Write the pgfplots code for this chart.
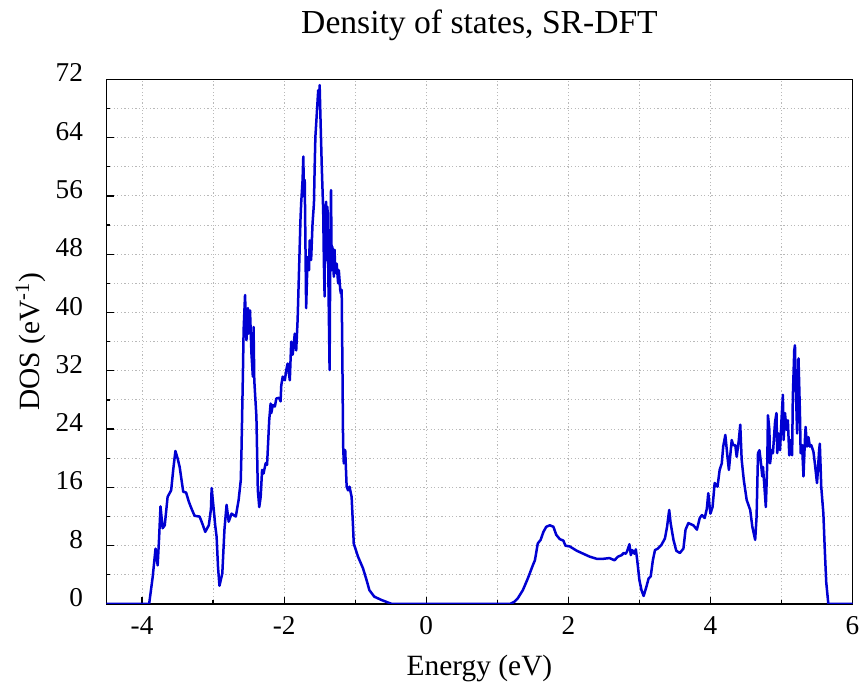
\documentclass[border=0pt]{standalone}
\usepackage{fontspec}
\setmainfont{Liberation Serif}
\usepackage{pgfplots}
\pgfplotsset{compat=1.18}
\definecolor{dosblue}{RGB}{0,0,210}
\definecolor{gridgray}{RGB}{185,185,185}
\begin{document}
\begin{tikzpicture}
\begin{axis}[
  scale only axis,
  width=373pt, height=262.35pt,
  xmin=-4.5, xmax=6, ymin=0, ymax=72,
  xtick={-4,-2,0,2,4,6},
  minor xtick={-3,-1,1,3,5},
  ytick={0,8,16,24,32,40,48,56,64,72},
  minor ytick={4,12,20,28,36,44,52,60,68},
  tick pos=left,
  tick align=inside,
  major tick length=3.5pt,
  minor tick length=2pt,
  every tick/.style={black, line width=0.6pt},
  grid=both,
  major grid style={gridgray, line width=0.5pt, dash pattern=on 0.6pt off 1.2pt},
  minor grid style={gridgray, line width=0.5pt, dash pattern=on 0.6pt off 1.2pt},
  axis line style={black, line width=0.8pt},
  /pgf/number format/assume math mode=true,
  ticklabel style={font=\fontsize{13.6}{15}\selectfont},
  xticklabel style={anchor=base, yshift=-15.5pt},
  yticklabel style={anchor=base east, xshift=-8.25pt, yshift=-1.3pt},
  title={Density of states, SR-DFT},
  every axis title/.style={font=\fontsize{16.8}{19}\selectfont, at={(axis description cs:0.5,1.0877)}, anchor=base},
  xlabel={Energy (eV)},
  xlabel style={font=\fontsize{14.7}{17}\selectfont, at={(axis description cs:0.5,-0.1372)}, anchor=base},
  ylabel={DOS (eV\textsuperscript{-1})},
  ylabel style={font=\fontsize{14.7}{17}\selectfont, at={(axis description cs:-0.0898,0.5)}, anchor=base},
  clip=true,
]
\coordinate (bl) at (rel axis cs:0,0);
\addplot[dosblue, line width=1.25pt, line join=round] coordinates {
(-4.5,0) (-3.90,0) (-3.85,3.7) (-3.81,7.6) (-3.78,5.3) (-3.76,9) (-3.74,13.4) (-3.71,10.4) (-3.68,10.8)
(-3.64,14.7) (-3.59,15.6) (-3.56,18.5) (-3.53,21.0) (-3.50,20) (-3.47,18.8) (-3.42,15.4) (-3.38,15.3)
(-3.34,14.0) (-3.30,13) (-3.26,12.1) (-3.19,12.0) (-3.15,11) (-3.11,9.9) (-3.06,10.8) (-3.03,13)
(-3.02,15.9) (-2.99,12.9) (-2.97,10.8) (-2.95,9.2) (-2.93,5) (-2.91,2.5) (-2.87,4.2) (-2.84,10.2)
(-2.81,13.6) (-2.78,11.3) (-2.74,12.4) (-2.68,12.0) (-2.64,14.3) (-2.61,17.0) (-2.60,21.1) (-2.58,31.6)
(-2.57,37.6) (-2.55,42.4) (-2.53,36.2) (-2.51,40.6) (-2.50,37.1) (-2.48,40.3) (-2.46,34.4) (-2.44,31.2)
(-2.43,38.0) (-2.42,30.7) (-2.39,25.7) (-2.37,15.6) (-2.35,13.3) (-2.33,14.7) (-2.31,18.4) (-2.29,17.9)
(-2.26,19.3) (-2.24,19.1) (-2.21,25.2) (-2.19,27.5) (-2.18,26.2) (-2.16,27.3) (-2.13,27.1) (-2.11,28.2)
(-2.07,28.3) (-2.05,27.8) (-2.04,30.0) (-2.02,31.2) (-1.99,30.7) (-1.97,32.1) (-1.95,33.0) (-1.92,30.7)
(-1.90,36.0) (-1.88,34.2) (-1.85,37.1) (-1.83,34.8) (-1.81,39.0) (-1.79,45.8) (-1.77,52.7) (-1.76,55.0)
(-1.74,58.2) (-1.73,61.4) (-1.72,55.9) (-1.71,58.2) (-1.70,49.5) (-1.69,40.6) (-1.67,47.6) (-1.65,45.8)
(-1.64,49.9) (-1.62,47.2) (-1.60,52.2) (-1.58,55.0) (-1.57,60.0) (-1.56,64.1) (-1.54,67.3) (-1.52,70.5)
(-1.51,68.7) (-1.50,71.2) (-1.49,67.3) (-1.47,60.0) (-1.45,54.0) (-1.44,46.7) (-1.43,42.2) (-1.425,54.5)
(-1.42,51.3) (-1.41,55.2) (-1.40,47.2) (-1.39,54.5) (-1.37,39.4) (-1.36,32.1) (-1.35,48.6) (-1.34,56.8)
(-1.33,45.8) (-1.32,49.0) (-1.30,44.9) (-1.29,48.6) (-1.28,45.4) (-1.26,46.7) (-1.24,44.0) (-1.23,45.8)
(-1.21,43.1) (-1.20,42.6) (-1.19,43.1) (-1.18,33.5) (-1.17,22.0) (-1.16,19.3) (-1.14,21.1) (-1.12,16.1)
(-1.10,15.6) (-1.08,16.1) (-1.05,14.7) (-1.03,10.6) (-1.02,8.3) (-0.96,6.5) (-0.89,4.9) (-0.84,3.3)
(-0.80,1.9) (-0.73,1.0) (-0.63,0.55) (-0.51,0.1) (-0.48,0)
(1.18,0) (1.24,0.3) (1.29,0.8) (1.36,1.9) (1.43,3.5) (1.50,5.3) (1.53,6.0) (1.57,8.3) (1.61,8.8)
(1.65,9.9) (1.69,10.6) (1.74,10.8) (1.79,10.6) (1.83,9.5) (1.88,8.9) (1.93,8.7) (1.96,8.0) (2.02,7.9)
(2.12,7.3) (2.21,6.9) (2.30,6.5) (2.40,6.2) (2.49,6.2) (2.58,6.3) (2.65,6.0) (2.70,6.5) (2.75,6.7)
(2.78,7.0) (2.81,6.9) (2.83,7.3) (2.86,8.2) (2.88,6.7) (2.90,7.4) (2.93,6.9) (2.95,7.5) (2.97,6.0)
(3.00,3.3) (3.03,1.9) (3.06,1.1) (3.10,2.4) (3.13,3.5) (3.16,3.8) (3.19,6.0) (3.22,7.4) (3.26,7.6)
(3.31,8.1) (3.36,9.0) (3.39,10.6) (3.42,12.9) (3.44,11.1) (3.48,8.8) (3.52,7.3) (3.57,7.0) (3.62,7.6)
(3.65,10.2) (3.69,11.1) (3.76,10.8) (3.81,10.2) (3.85,11.8) (3.88,12.2) (3.92,11.8) (3.95,13.1)
(3.97,15.2) (4.00,12.4) (4.03,13.3) (4.06,16.6) (4.10,16.1) (4.13,18.4) (4.16,19.3) (4.18,21.6)
(4.21,23.2) (4.24,20.2) (4.26,18.4) (4.30,22.5) (4.32,21.8) (4.35,21.8) (4.37,20.2) (4.40,22.5)
(4.42,24.6) (4.44,19.8) (4.47,17.0) (4.51,14.3) (4.56,12.9) (4.59,10.6) (4.63,8.8) (4.65,12.0)
(4.67,20.7) (4.69,21.1) (4.71,19.5) (4.73,17.5) (4.74,18.8) (4.76,16.1) (4.78,13.3) (4.80,19.3)
(4.81,25.9) (4.83,23.9) (4.84,19.3) (4.86,21.1) (4.88,20.7) (4.91,25.0) (4.93,26.2) (4.94,20.7)
(4.96,23.4) (4.98,21.1) (5.00,25.2) (5.02,28.7) (5.03,22.5) (5.05,26.2) (5.07,23.9) (5.09,25.2)
(5.11,20.4) (5.13,22.5) (5.15,20.4) (5.16,28.4) (5.18,34.8) (5.19,35.5) (5.20,30.7) (5.22,23.4)
(5.23,29.8) (5.24,33.7) (5.26,26.2) (5.27,20.7) (5.29,21.8) (5.31,17.5) (5.33,22.5) (5.34,24.3)
(5.36,21.6) (5.38,22.9) (5.40,21.6) (5.42,21.8) (5.45,20.9) (5.47,19.3) (5.50,16.6) (5.51,17.9)
(5.53,21.1) (5.54,22.0) (5.56,16.1) (5.59,12.4) (5.61,7.4) (5.63,3) (5.66,0) (6,0)
};
\end{axis}
\pgfresetboundingbox
\path ([xshift=-53.25pt,yshift=-39.5pt]bl) rectangle ++(431pt,341.5pt);
\end{tikzpicture}
\end{document}
